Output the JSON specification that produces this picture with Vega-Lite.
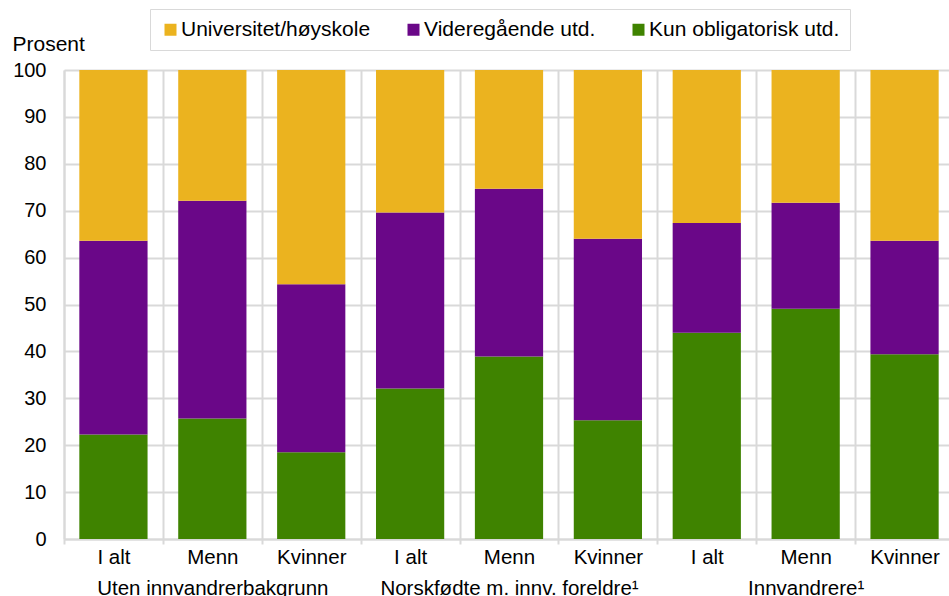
{
  "$schema": "https://vega.github.io/schema/vega-lite/v6.json",
  "autosize": "none",
  "width": 885,
  "height": 469,
  "padding": {"left": 64, "top": 70, "right": 0, "bottom": 57},
  "background": "white",
  "config": {
    "font": "Liberation Sans",
    "view": {"stroke": null},
    "axis": {"labelColor": "black", "titleColor": "black", "labelFont": "Liberation Sans", "titleFont": "Liberation Sans"}
  },
  "data": {
    "values": [
      {"stolpe": "Uten innvandrerbakgrunn|I alt", "utdanning": "Kun obligatorisk utd.", "nivaa": 1, "prosent": 22.3},
      {"stolpe": "Uten innvandrerbakgrunn|I alt", "utdanning": "Videregående utd.", "nivaa": 2, "prosent": 41.3},
      {"stolpe": "Uten innvandrerbakgrunn|I alt", "utdanning": "Universitet/høyskole", "nivaa": 3, "prosent": 36.4},
      {"stolpe": "Uten innvandrerbakgrunn|Menn", "utdanning": "Kun obligatorisk utd.", "nivaa": 1, "prosent": 25.7},
      {"stolpe": "Uten innvandrerbakgrunn|Menn", "utdanning": "Videregående utd.", "nivaa": 2, "prosent": 46.4},
      {"stolpe": "Uten innvandrerbakgrunn|Menn", "utdanning": "Universitet/høyskole", "nivaa": 3, "prosent": 27.9},
      {"stolpe": "Uten innvandrerbakgrunn|Kvinner", "utdanning": "Kun obligatorisk utd.", "nivaa": 1, "prosent": 18.5},
      {"stolpe": "Uten innvandrerbakgrunn|Kvinner", "utdanning": "Videregående utd.", "nivaa": 2, "prosent": 35.8},
      {"stolpe": "Uten innvandrerbakgrunn|Kvinner", "utdanning": "Universitet/høyskole", "nivaa": 3, "prosent": 45.7},
      {"stolpe": "Norskfødte m. innv. foreldre¹|I alt", "utdanning": "Kun obligatorisk utd.", "nivaa": 1, "prosent": 32.1},
      {"stolpe": "Norskfødte m. innv. foreldre¹|I alt", "utdanning": "Videregående utd.", "nivaa": 2, "prosent": 37.5},
      {"stolpe": "Norskfødte m. innv. foreldre¹|I alt", "utdanning": "Universitet/høyskole", "nivaa": 3, "prosent": 30.4},
      {"stolpe": "Norskfødte m. innv. foreldre¹|Menn", "utdanning": "Kun obligatorisk utd.", "nivaa": 1, "prosent": 38.9},
      {"stolpe": "Norskfødte m. innv. foreldre¹|Menn", "utdanning": "Videregående utd.", "nivaa": 2, "prosent": 35.8},
      {"stolpe": "Norskfødte m. innv. foreldre¹|Menn", "utdanning": "Universitet/høyskole", "nivaa": 3, "prosent": 25.3},
      {"stolpe": "Norskfødte m. innv. foreldre¹|Kvinner", "utdanning": "Kun obligatorisk utd.", "nivaa": 1, "prosent": 25.3},
      {"stolpe": "Norskfødte m. innv. foreldre¹|Kvinner", "utdanning": "Videregående utd.", "nivaa": 2, "prosent": 38.7},
      {"stolpe": "Norskfødte m. innv. foreldre¹|Kvinner", "utdanning": "Universitet/høyskole", "nivaa": 3, "prosent": 36.0},
      {"stolpe": "Innvandrere¹|I alt", "utdanning": "Kun obligatorisk utd.", "nivaa": 1, "prosent": 44.0},
      {"stolpe": "Innvandrere¹|I alt", "utdanning": "Videregående utd.", "nivaa": 2, "prosent": 23.4},
      {"stolpe": "Innvandrere¹|I alt", "utdanning": "Universitet/høyskole", "nivaa": 3, "prosent": 32.6},
      {"stolpe": "Innvandrere¹|Menn", "utdanning": "Kun obligatorisk utd.", "nivaa": 1, "prosent": 49.1},
      {"stolpe": "Innvandrere¹|Menn", "utdanning": "Videregående utd.", "nivaa": 2, "prosent": 22.6},
      {"stolpe": "Innvandrere¹|Menn", "utdanning": "Universitet/høyskole", "nivaa": 3, "prosent": 28.3},
      {"stolpe": "Innvandrere¹|Kvinner", "utdanning": "Kun obligatorisk utd.", "nivaa": 1, "prosent": 39.4},
      {"stolpe": "Innvandrere¹|Kvinner", "utdanning": "Videregående utd.", "nivaa": 2, "prosent": 24.2},
      {"stolpe": "Innvandrere¹|Kvinner", "utdanning": "Universitet/høyskole", "nivaa": 3, "prosent": 36.4}
    ]
  },
  "mark": {"type": "bar", "width": {"band": 0.69}},
  "encoding": {
    "x": {
      "field": "stolpe",
      "type": "nominal",
      "sort": null,
      "scale": {"paddingInner": 0, "paddingOuter": 0, "range": [0, 890]},
      "axis": {
        "title": null,
        "labelAngle": 0,
        "labelFontSize": 20.5,
        "labelPadding": 3,
        "labelLineHeight": 31,
        "labelBaseline": "top",
        "labelLimit": 500,
        "labelExpr": "split(datum.label, '|')[1] == 'Menn' ? [split(datum.label, '|')[1], split(datum.label, '|')[0]] : split(datum.label, '|')[1]",
        "tickBand": "extent",
        "grid": true,
        "gridColor": "#d9d9d9",
        "gridWidth": 2,
        "ticks": true,
        "tickColor": "#d9d9d9",
        "tickWidth": 2,
        "tickSize": 5,
        "domainColor": "#d9d9d9",
        "domainWidth": 2
      }
    },
    "y": {
      "field": "prosent",
      "type": "quantitative",
      "stack": "zero",
      "scale": {"domain": [0, 100], "nice": false},
      "axis": {
        "values": [0, 10, 20, 30, 40, 50, 60, 70, 80, 90, 100],
        "title": "Prosent",
        "titleAngle": 0,
        "titleAlign": "left",
        "titleBaseline": "alphabetic",
        "titleX": -52,
        "titleY": -20,
        "titleFontSize": 21,
        "titleFontWeight": "normal",
        "labelFontSize": 20,
        "labelPadding": 18,
        "ticks": false,
        "tickSize": 0,
        "grid": true,
        "gridColor": "#d9d9d9",
        "gridWidth": 2,
        "domainColor": "#d9d9d9",
        "domainWidth": 2
      }
    },
    "color": {
      "field": "utdanning",
      "type": "nominal",
      "scale": {
        "domain": ["Universitet/høyskole", "Videregående utd.", "Kun obligatorisk utd."],
        "range": ["#EBB31F", "#6A0788", "#3F8300"]
      },
      "legend": {
        "title": null,
        "orient": "none",
        "legendX": 86,
        "legendY": -61,
        "direction": "horizontal",
        "strokeColor": "#d9d9d9",
        "fillColor": "white",
        "padding": 10,
        "symbolType": "square",
        "symbolSize": 144,
        "symbolStrokeWidth": 0,
        "labelFontSize": 21,
        "labelOffset": 0,
        "labelColor": "black",
        "labelLimit": 400,
        "columnPadding": 32
      }
    },
    "order": {"field": "nivaa", "type": "quantitative", "sort": "ascending"}
  }
}
